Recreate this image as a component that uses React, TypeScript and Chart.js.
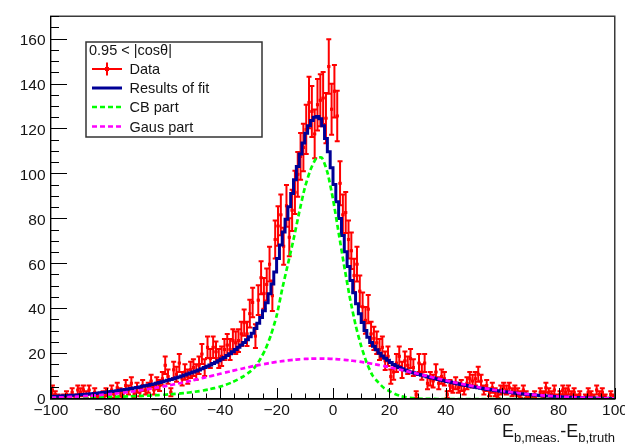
import React, { useEffect, useRef } from "react";
import { Chart, registerables } from "chart.js";

Chart.register(...registerables);

// Histogram binning: 200 bins of width 1 from -100 to 100
const X_MIN = -100;
const X_MAX = 100;
const BIN_WIDTH = 1;
const Y_MIN = 0;
const Y_MAX = 170.5;

const X_TICKS = [-100, -80, -60, -40, -20, 0, 20, 40, 60, 80, 100];
const Y_TICKS = [0, 20, 40, 60, 80, 100, 120, 140, 160];
const MINOR_STEP = 5;

// Entries per bin (bin centres -99.5 ... 99.5)
const COUNTS = [
  4, 2, 1, 0, 1, 2, 1, 3, 1, 4,
  3, 4, 2, 4, 1, 3, 1, 0, 2, 3,
  1, 4, 2, 5, 3, 2, 6, 4, 7, 2,
  5, 3, 6, 4, 5, 8, 4, 7, 6, 9,
  15, 10, 3, 13, 11, 16, 9, 12, 10, 13,
  14, 12, 15, 20, 14, 23, 18, 23, 21, 18,
  19, 22, 24, 22, 26, 25, 26, 29, 34, 29,
  38, 43, 28, 44, 54, 47, 51, 60, 46, 71,
  77, 82, 68, 86, 72, 84, 92, 100, 108, 112,
  120, 132, 128, 118, 131, 133, 134, 125, 148, 129,
  137, 126, 96, 82, 83, 71, 66, 55, 60, 48,
  41, 35, 40, 29, 27, 25, 22, 23, 17, 19,
  10, 12, 16, 19, 13, 17, 15, 18, 14, 2,
  16, 12, 16, 7, 9, 8, 12, 7, 10, 9,
  2, 6, 5, 7, 5, 6, 4, 7, 9, 8,
  9, 11, 8, 4, 6, 3, 5, 3, 2, 4,
  5, 4, 5, 3, 4, 3, 2, 4, 2, 1,
  1, 2, 0, 3, 2, 5, 3, 2, 4, 1,
  2, 4, 3, 4, 2, 3, 1, 2, 0, 1,
  3, 2, 1, 4, 2, 3, 1, 0, 2, 1,
];

// Total fit function, one value per bin
const FIT = [
  1.08, 1.13, 1.19, 1.26, 1.32, 1.4, 1.47, 1.54, 1.63, 1.72,
  1.81, 1.9, 2.0, 2.1, 2.22, 2.34, 2.46, 2.6, 2.73, 2.88,
  3.03, 3.18, 3.33, 3.5, 3.68, 3.87, 4.07, 4.26, 4.47, 4.69,
  4.91, 5.14, 5.38, 5.63, 5.9, 6.16, 6.44, 6.73, 7.03, 7.34,
  7.67, 8.0, 8.35, 8.7, 9.07, 9.44, 9.83, 10.24, 10.65, 11.08,
  11.52, 11.99, 12.47, 12.96, 13.48, 14.03, 14.6, 15.18, 15.78, 16.4,
  17.07, 17.78, 18.5, 19.32, 20.17, 21.06, 22.0, 23.0, 24.05, 25.2,
  26.4, 27.7, 29.3, 31.4, 33.7, 36.3, 39.3, 42.8, 46.8, 51.2,
  56.5, 62.6, 68.6, 74.3, 80.0, 85.6, 91.5, 97.6, 103.5, 109.1,
  114.0, 118.3, 121.6, 124.0, 125.4, 125.8, 124.8, 121.6, 116.0, 110.1,
  103.0, 95.5, 87.8, 80.3, 72.8, 65.6, 59.0, 52.8, 47.3, 42.4,
  38.0, 34.0, 30.5, 27.5, 25.2, 23.5, 21.9, 20.4, 19.1, 18.1,
  17.2, 16.3, 15.4, 14.7, 14.0, 13.45, 12.9, 12.5, 12.05, 11.65,
  11.25, 10.9, 10.55, 10.2, 9.9, 9.6, 9.3, 8.97, 8.68, 8.38,
  8.1, 7.82, 7.54, 7.27, 6.99, 6.73, 6.47, 6.22, 5.97, 5.72,
  5.48, 5.26, 5.03, 4.81, 4.6, 4.39, 4.18, 3.99, 3.8, 3.62,
  3.44, 3.27, 3.1, 2.95, 2.8, 2.65, 2.5, 2.37, 2.24, 2.12,
  2.0, 1.89, 1.78, 1.67, 1.57, 1.48, 1.39, 1.3, 1.22, 1.15,
  1.07, 1.0, 0.94, 0.88, 0.82, 0.77, 0.71, 0.67, 0.62, 0.57,
  0.53, 0.49, 0.45, 0.42, 0.38, 0.36, 0.33, 0.3, 0.28, 0.26,
];

// Fit components sampled every 2 units from -100 to 100
const CURVE_STEP = 2;
const CB_PART = [
  0.5, 0.52, 0.55, 0.58, 0.61, 0.65, 0.69, 0.73, 0.78, 0.83,
  0.89, 0.95, 1.02, 1.1, 1.18, 1.27, 1.37, 1.48, 1.6, 1.74,
  1.9, 2.08, 2.28, 2.5, 2.76, 3.05, 3.4, 3.8, 4.3, 4.85,
  5.5, 6.3, 7.3, 8.5, 9.9, 11.6, 13.7, 17.3, 22, 28.5,
  37, 49, 60, 71, 83, 94, 102, 107, 107.5, 101,
  89, 74, 59, 45, 33, 23.5, 16, 10.5, 7.5, 5,
  3.5, 2.2, 1.3, 0.75, 0.42, 0.22, 0.11, 0.05, 0.02, 0,
  0, 0, 0, 0, 0, 0, 0, 0, 0, 0,
  0, 0, 0, 0, 0, 0, 0, 0, 0, 0,
  0, 0, 0, 0, 0, 0, 0, 0, 0, 0,
  0,
];
const GAUS_PART = [
  0.55, 0.64, 0.74, 0.85, 0.97, 1.11, 1.26, 1.43, 1.62, 1.83,
  2.06, 2.3, 2.57, 2.87, 3.18, 3.53, 3.89, 4.28, 4.7, 5.14,
  5.6, 6.09, 6.6, 7.13, 7.68, 8.24, 8.82, 9.41, 10.01, 10.62,
  11.22, 11.83, 12.42, 13.01, 13.59, 14.14, 14.68, 15.19, 15.66, 16.1,
  16.5, 16.86, 17.18, 17.45, 17.66, 17.83, 17.94, 17.99, 17.99, 17.94,
  17.83, 17.66, 17.45, 17.18, 16.86, 16.5, 16.1, 15.66, 15.19, 14.68,
  14.14, 13.59, 13.01, 12.42, 11.83, 11.22, 10.62, 10.01, 9.41, 8.82,
  8.24, 7.68, 7.13, 6.6, 6.09, 5.6, 5.14, 4.7, 4.28, 3.89,
  3.53, 3.18, 2.87, 2.57, 2.3, 2.06, 1.83, 1.62, 1.43, 1.26,
  1.11, 0.97, 0.85, 0.74, 0.64, 0.55, 0.47, 0.4, 0.34, 0.29,
  0.25,
];

const LEGEND_HEADER = "0.95 < |cos\u03b8|";
const LEGEND_LABELS = ["Data", "Results of fit", "CB part", "Gaus part"];

const RED = "#ff0000";
const BLUE = "#000096";
const GREEN = "#00ff00";
const MAGENTA = "#ff00ff";
const TEXT = "#141414";
const FONT = '"Liberation Sans", Arial, Helvetica, sans-serif';

const binCenter = (i: number) => X_MIN + (i + 0.5) * BIN_WIDTH;
const fmt = (v: number) => (v < 0 ? "\u2212" + Math.abs(v) : String(v));

const rootStyle = {
  id: "rootStyle",
  beforeDatasetsDraw(chart: any) {
    const { ctx, chartArea: a } = chart;
    const xs = chart.scales.x;
    const ys = chart.scales.y;
    ctx.save();
    ctx.beginPath();
    ctx.rect(a.left, a.top, a.right - a.left, a.bottom - a.top);
    ctx.clip();
    ctx.strokeStyle = RED;
    ctx.lineWidth = 2;
    ctx.beginPath();
    COUNTS.forEach((n, i) => {
      if (n <= 0) return;
      const c = binCenter(i);
      const err = Math.sqrt(n);
      const px = xs.getPixelForValue(c);
      const yTop = ys.getPixelForValue(n + err);
      const yBot = ys.getPixelForValue(Math.max(0, n - err));
      const yMid = ys.getPixelForValue(n);
      ctx.moveTo(px, yTop);
      ctx.lineTo(px, yBot);
      ctx.moveTo(px - 2.5, yTop);
      ctx.lineTo(px + 2.5, yTop);
      ctx.moveTo(px - 2.5, yBot);
      ctx.lineTo(px + 2.5, yBot);
      ctx.moveTo(xs.getPixelForValue(c - BIN_WIDTH / 2), yMid);
      ctx.lineTo(xs.getPixelForValue(c + BIN_WIDTH / 2), yMid);
    });
    ctx.stroke();
    ctx.restore();
  },
  afterDraw(chart: any) {
    const { ctx, chartArea: a } = chart;
    const xs = chart.scales.x;
    const ys = chart.scales.y;
    ctx.save();

    // frame
    ctx.strokeStyle = "#3a3a3a";
    ctx.lineWidth = 1.5;
    ctx.strokeRect(a.left - 0.25, a.top + 0.25, a.right - a.left, a.bottom - a.top);

    // axes and ticks
    ctx.strokeStyle = "#000";
    ctx.lineWidth = 1;
    ctx.beginPath();
    ctx.moveTo(a.left - 0.5, a.top);
    ctx.lineTo(a.left - 0.5, a.bottom);
    ctx.moveTo(a.left, a.bottom - 0.5);
    ctx.lineTo(a.right, a.bottom - 0.5);
    for (let v = Y_MIN; v <= Y_MAX; v += MINOR_STEP) {
      const py = Math.round(ys.getPixelForValue(v)) - 0.5;
      const len = Y_TICKS.includes(v) ? 16 : 8;
      ctx.moveTo(a.left, py);
      ctx.lineTo(a.left + len, py);
    }
    for (let v = X_MIN; v <= X_MAX; v += MINOR_STEP) {
      const px = Math.round(xs.getPixelForValue(v)) + 0.5;
      const len = X_TICKS.includes(v) ? 11 : 5.5;
      ctx.moveTo(px, a.bottom);
      ctx.lineTo(px, a.bottom - len);
    }
    ctx.stroke();

    // tick labels
    ctx.fillStyle = TEXT;
    ctx.font = `15.5px ${FONT}`;
    ctx.textAlign = "right";
    ctx.textBaseline = "middle";
    Y_TICKS.forEach((v) => {
      ctx.fillText(fmt(v), a.left - 5.5, ys.getPixelForValue(v) + 1);
    });
    ctx.textAlign = "center";
    ctx.textBaseline = "top";
    X_TICKS.forEach((v) => {
      ctx.fillText(fmt(v), xs.getPixelForValue(v), a.bottom + 4);
    });

    // x axis title with subscripts, right aligned to the frame
    const parts: [string, number, number][] = [
      ["E", 18, 0],
      ["b,meas.", 13, 4.5],
      ["-E", 18, 0],
      ["b,truth", 13, 4.5],
    ];
    ctx.textAlign = "left";
    ctx.textBaseline = "alphabetic";
    const widths = parts.map(([t, s]) => {
      ctx.font = `${s}px ${FONT}`;
      return ctx.measureText(t).width;
    });
    let tx = a.right - widths.reduce((p, w) => p + w, 0);
    parts.forEach(([t, s, dy], k) => {
      ctx.font = `${s}px ${FONT}`;
      ctx.fillText(t, tx, 437 + dy);
      tx += widths[k];
    });

    // legend box
    const bx = 86;
    const by = 42;
    const bw = 176;
    const bh = 95;
    ctx.fillStyle = "#fff";
    ctx.fillRect(bx, by, bw, bh);
    ctx.strokeStyle = "#333";
    ctx.lineWidth = 1.5;
    ctx.strokeRect(bx, by, bw, bh);
    ctx.fillStyle = TEXT;
    ctx.font = `14.5px ${FONT}`;
    ctx.fillText(LEGEND_HEADER, 89, 54.5);
    const rowY = [69, 88, 107, 126.5];
    LEGEND_LABELS.forEach((label, k) => {
      ctx.fillStyle = TEXT;
      ctx.fillText(label, 129.5, rowY[k] + 5);
    });
    // symbols
    ctx.lineCap = "butt";
    ctx.strokeStyle = RED;
    ctx.lineWidth = 2;
    ctx.beginPath();
    ctx.moveTo(92, rowY[0]);
    ctx.lineTo(122, rowY[0]);
    ctx.moveTo(107, rowY[0] - 6.5);
    ctx.lineTo(107, rowY[0] + 6.5);
    ctx.stroke();
    ctx.fillStyle = RED;
    ctx.fillRect(105, rowY[0] - 2, 4, 4);
    ctx.strokeStyle = BLUE;
    ctx.lineWidth = 3;
    ctx.beginPath();
    ctx.moveTo(92, rowY[1]);
    ctx.lineTo(122, rowY[1]);
    ctx.stroke();
    ctx.setLineDash([5, 3]);
    ctx.lineWidth = 2.7;
    ctx.strokeStyle = GREEN;
    ctx.beginPath();
    ctx.moveTo(92, rowY[2]);
    ctx.lineTo(122, rowY[2]);
    ctx.stroke();
    ctx.strokeStyle = MAGENTA;
    ctx.beginPath();
    ctx.moveTo(92, rowY[3]);
    ctx.lineTo(122, rowY[3]);
    ctx.stroke();
    ctx.setLineDash([]);

    ctx.restore();
  },
};

export default function App() {
  const canvasRef = useRef<HTMLCanvasElement | null>(null);

  useEffect(() => {
    const canvas = canvasRef.current;
    if (!canvas) return;

    const dataPoints = COUNTS.map((n, i) => ({ x: binCenter(i), y: n })).filter((p) => p.y > 0);
    const fitSteps = FIT.map((v, i) => ({ x: X_MIN + i * BIN_WIDTH, y: v }));
    fitSteps.push({ x: X_MAX, y: FIT[FIT.length - 1] });
    const cbPoints = CB_PART.map((v, i) => ({ x: X_MIN + i * CURVE_STEP, y: v }));
    const gausPoints = GAUS_PART.map((v, i) => ({ x: X_MIN + i * CURVE_STEP, y: v }));

    const chart = new Chart(canvas, {
      type: "line",
      data: {
        datasets: [
          {
            label: "Gaus part",
            data: gausPoints,
            borderColor: MAGENTA,
            borderWidth: 2.7,
            borderDash: [5, 3],
            pointRadius: 0,
            tension: 0.2,
            fill: false,
          },
          {
            label: "CB part",
            data: cbPoints,
            borderColor: GREEN,
            borderWidth: 2.7,
            borderDash: [5, 3],
            pointRadius: 0,
            tension: 0.2,
            fill: false,
          },
          {
            label: "Results of fit",
            data: fitSteps,
            borderColor: BLUE,
            borderWidth: 3,
            stepped: "after",
            pointRadius: 0,
            fill: false,
          },
          {
            label: "Data",
            data: dataPoints,
            showLine: false,
            pointStyle: "rect",
            pointRadius: 2.2,
            pointBackgroundColor: RED,
            pointBorderWidth: 0,
            borderColor: RED,
            backgroundColor: RED,
          },
        ],
      },
      options: {
        animation: false,
        responsive: false,
        maintainAspectRatio: false,
        events: [],
        layout: { padding: { left: 51, right: 10, top: 16, bottom: 48 } },
        plugins: {
          legend: { display: false },
          tooltip: { enabled: false },
        },
        scales: {
          x: { type: "linear", min: X_MIN, max: X_MAX, display: false },
          y: { type: "linear", min: Y_MIN, max: Y_MAX, display: false },
        },
      },
      plugins: [rootStyle],
    });

    return () => chart.destroy();
  }, []);

  return (
    <div
      style={{
        position: "fixed",
        left: 0,
        top: 0,
        width: 625,
        height: 447,
        background: "#fff",
      }}
    >
      <canvas ref={canvasRef} width={625} height={447} style={{ display: "block" }} />
    </div>
  );
}
